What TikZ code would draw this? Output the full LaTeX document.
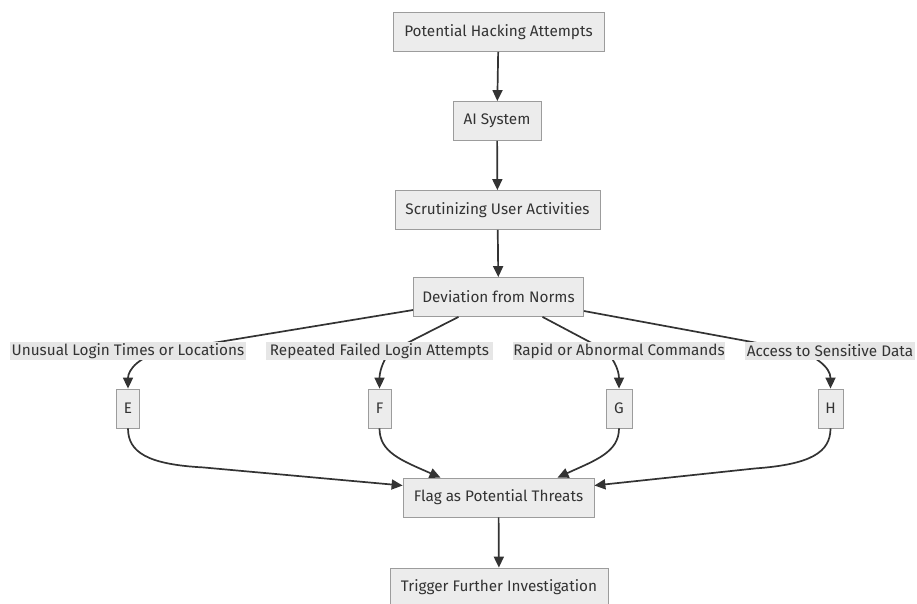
\documentclass[tikz,border=0pt]{standalone}
\usepackage{fontspec}
\setmainfont{Fira Sans}
\usetikzlibrary{arrows.meta,calc}
\definecolor{boxfill}{HTML}{ECECEC}
\definecolor{boxline}{HTML}{9C9C9C}
\definecolor{txt}{HTML}{333333}
\definecolor{lblfill}{HTML}{E6E6E6}
\begin{document}
\begin{tikzpicture}[x=1pt,y=-1pt,
  box/.style={draw=boxline,fill=boxfill,text=txt,line width=0.8pt,inner sep=0pt,minimum height=39pt,font=\fontsize{15.3}{17}\selectfont},
  lbl/.style={fill=lblfill,text=txt,inner sep=0pt,minimum height=18pt,font=\fontsize{15.3}{17}\selectfont},
  edge/.style={draw=txt,line width=1.7pt,-{Triangle[length=11pt,width=10pt]}}]
\useasboundingbox (0,0) rectangle (917,603);
\node[box,minimum width=211pt] (A) at (498.5,32) {Potential Hacking Attempts};
\node[box,minimum width=88pt] (B) at (497,121) {AI System};
\node[box,minimum width=205pt] (C) at (497.5,210) {Scrutinizing User Activities};
\node[box,minimum width=170pt] (D) at (498.5,297) {Deviation from Norms};
\node[box,minimum width=23pt] (E) at (128,408.5) {E};
\node[box,minimum width=23pt] (F) at (379.5,408.5) {F};
\node[box,minimum width=26pt] (G) at (619,408.5) {G};
\node[box,minimum width=25pt] (H) at (830.5,408.5) {H};
\node[box,minimum width=191pt] (K) at (498.5,497.5) {Flag as Potential Threats};
\node[box,minimum width=218pt] (T) at (499,587.5) {Trigger Further Investigation};
% straight edges
\draw[edge] (A) -- (B);
\draw[edge] (B) -- (C);
\draw[edge] (C) -- (D);
\draw[edge] (K) -- (T);
% label placement
\coordinate (L1c) at (128,351);
\coordinate (L2c) at (379.5,351);
\coordinate (L3c) at (619,351);
\coordinate (L4c) at (830,351);
% edges through labels
\draw[edge] ($(D.west)+(0,13)$) -- ($(L1c)+(42,-1)$) .. controls ($(L1c)+(10,4)$) and ($(E.north)+(0,-18)$) .. (E.north);
\draw[edge] ($(D.south)+(-40,0)$) -- ($(L2c)+(12,0)$) .. controls ($(L2c)+(4,7)$) and ($(F.north)+(0,-17)$) .. (F.north);
\draw[edge] ($(D.south)+(44,0)$) -- ($(L3c)+(-16,-2)$) .. controls ($(L3c)+(-7,4)$) and ($(G.north)+(0,-19)$) .. (G.north);
\draw[edge] ($(D.east)+(0,14)$) -- ($(L4c)+(-40,-2)$) .. controls ($(L4c)+(-15,3)$) and ($(H.north)+(0,-21)$) .. (H.north);
% labels on top
\node[lbl,minimum width=236pt] (L1) at (L1c) {Unusual Login Times or Locations};
\node[lbl,minimum width=227pt] (L2) at (L2c) {Repeated Failed Login Attempts};
\node[lbl,minimum width=212pt] (L3) at (L3c) {Rapid or Abnormal Commands};
\node[lbl,minimum width=170pt] (L4) at (L4c) {Access to Sensitive Data};
% edges into flag
\draw[edge] (E.south) .. controls ($(E.south)+(0,24)$) and ($(E.south)+(20,36)$) .. ($(E.south)+(75,39)$) -- ($(K.west)+(0,-12)$);
\draw[edge] (F.south) .. controls ($(F.south)+(0,24)$) and ($(F.south)+(22,32)$) .. ($(K.north)+(-58,0)$);
\draw[edge] (G.south) .. controls ($(G.south)+(0,24)$) and ($(G.south)+(-24,32)$) .. ($(K.north)+(59,0)$);
\draw[edge] (H.south) .. controls ($(H.south)+(0,24)$) and ($(H.south)+(-20,36)$) .. ($(H.south)+(-75,40)$) -- ($(K.east)+(0,-12)$);
\end{tikzpicture}
\end{document}
